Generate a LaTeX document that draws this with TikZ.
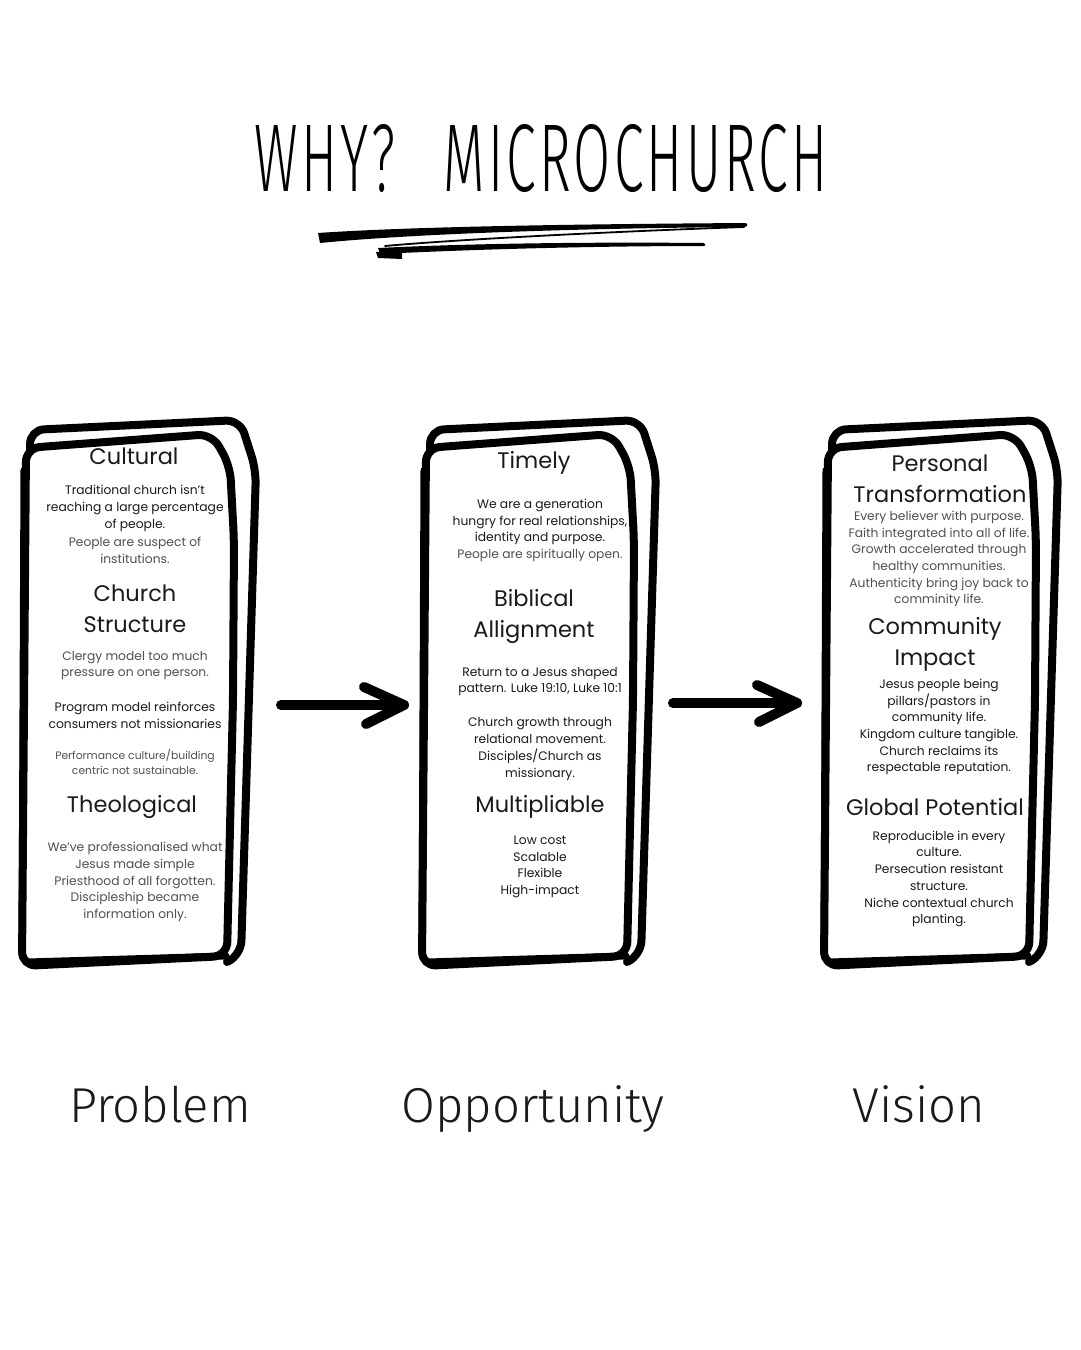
\documentclass[tikz,border=0pt]{standalone}
\usepackage{fontspec}
\usepackage{graphicx}
\usetikzlibrary{calc}
\setmainfont{Poppins}
\newfontfamily\titlefont{Fira Sans Light}
\definecolor{ink}{HTML}{1A1A1A}
\definecolor{inklight}{HTML}{505050}
\tikzset{
  head/.style={font=\fontsize{22.5}{31}\selectfont, text=ink, align=center, inner sep=0pt},
  body/.style={font=\fontsize{12.3}{16.7}\selectfont, text=ink, align=center, inner sep=0pt},
  lightbody/.style={body, text=inklight},
  smallbody/.style={font=\fontsize{10.8}{15}\selectfont, text=inklight, align=center, inner sep=0pt},
  pageline/.style={line width=8pt, line join=round, line cap=round, rounded corners=14pt},
  arrowline/.style={line width=10pt, line cap=round, line join=round},
  bottomlabel/.style={font=\titlefont\fontsize{49}{52}\selectfont, text=ink, inner sep=0pt, anchor=base}
}
\begin{document}
\begin{tikzpicture}[x=1pt,y=-1pt]
\useasboundingbox (0,0) rectangle (1080,1350);
\fill[white] (0,0) rectangle (1080,1350);

% title
\node (title) at (541,158) {\resizebox{573pt}{67pt}{\titlefont\addfontfeature{LetterSpace=6}WHY?\hspace{0.9em}MICROCHURCH}};
% underline strokes
\fill[black] (318,233) .. controls (420,226) and (600,224) .. (746,223)
  .. controls (748,224) and (748,226) .. (745,227)
  .. controls (600,228) and (420,233) .. (320,243) -- cycle;
\draw[line width=1.8pt, line cap=round] (744,227) .. controls (600,232) and (450,240) .. (385,246);
\fill[black] (378,248) .. controls (480,243) and (600,242) .. (704,243)
  .. controls (706,244) and (706,246) .. (703,246)
  .. controls (600,246) and (480,249) .. (380,254) -- cycle;
\fill[black] (376,252) -- (402,251) -- (402,259) -- (378,258) -- cycle;

% panels
\foreach \dx in {0,400,802}{
\begin{scope}[xshift=\dx pt]
  \draw[pageline] (32,950) -- (30,430) -- (240,420) -- (256,470) -- (241,955) -- (227,962);
  \draw[pageline, fill=white] (22,966) -- (26,448) -- (212,434) -- (230,466) -- (234,540) -- (233,700) -- (227,956) -- cycle;
  \draw[line width=7pt, line cap=round] (28,962) -- (226,956);
  \draw[line width=5pt, line cap=round] (21,950) -- (23,470);
\end{scope}
}

% panel 1 text
\node[head] (p1h1) at (134,456) {Cultural};
\node[body] (p1t1) at (135,508.5) {Traditional church isn’t\\reaching a large percentage\\of people.};
\node[lightbody] (p1t2) at (135,550) {People are suspect of\\institutions.};
\node[head] (p1h2) at (135,608.5) {Church\\Structure};
\node[lightbody] (p1t3) at (135,665.5) {Clergy model too much\\pressure on one person.};
\node[body] (p1t4) at (135,715.5) {Program model reinforces\\consumers not missionaries};
\node[smallbody] (p1t5) at (135,761.5) {Performance culture/building\\centric not sustainable.};
\node[head] (p1h3) at (132,807) {Theological};
\node[lightbody] (p1t6) at (135,882) {We’ve professionalised what\\Jesus made simple\\Priesthood of all forgotten.\\Discipleship became\\information only.};

% panel 2 text
\node[head] (p2h1) at (534,463) {Timely};
\node[body] (p2t1) at (540,522) {We are a generation\\hungry for real relationships,\\identity and purpose.};
\node[lightbody] (p2t2) at (540,555) {People are spiritually open.};
\node[head] (p2h2) at (534,616.5) {Biblical\\Allignment};
\node[body] (p2t3) at (540,681.5) {Return to a Jesus shaped\\pattern. Luke 19:10, Luke 10:1};
\node[body] (p2t4) at (540,749) {Church growth through\\relational movement.\\Disciples/Church as\\missionary.};
\node[head] (p2h3) at (540,807) {Multipliable};
\node[body] (p2t5) at (540,867) {Low cost\\Scalable\\Flexible\\High-impact};

% panel 3 text
\node[head] (p3h1) at (940,478.5) {Personal\\Transformation};
\node[lightbody] (p3t1) at (939,559) {Every believer with purpose.\\Faith integrated into all of life.\\Growth accelerated through\\healthy communities.\\Authenticity bring joy back to\\comminity life.};
\node[head] (p3h2) at (935,644.5) {Community\\Impact};
\node[body] (p3t2) at (939,727) {Jesus people being\\pillars/pastors in\\community life.\\Kingdom culture tangible.\\Church reclaims its\\respectable reputation.};
\node[head] (p3h3) at (935,807) {Global Potential};
\node[body] (p3t3) at (939,879) {Reproducible in every\\culture.\\Persecution resistant\\structure.\\Niche contextual church\\planting.};

% arrows
\coordinate (a1s) at (281,705);
\coordinate (a1e) at (404,705);
\coordinate (a2s) at (673,703);
\coordinate (a2e) at (797,703);
\draw[arrowline] (a1s) -- (a1e);
\draw[arrowline] ($(a1e)+(-40,-18)$) -- (a1e) -- ($(a1e)+(-38,19)$);
\draw[arrowline] (a2s) -- (a2e);
\draw[arrowline] ($(a2e)+(-40,-18)$) -- (a2e) -- ($(a2e)+(-38,19)$);

% bottom labels
\node[bottomlabel] (lprob) at (160,1122) {Problem};
\node[bottomlabel] (lopp) at (533,1122) {Opportunity};
\node[bottomlabel] (lvis) at (919,1122) {Vision};
\end{tikzpicture}
\end{document}
